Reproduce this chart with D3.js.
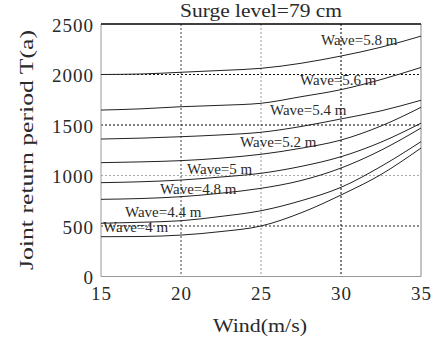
<!DOCTYPE html>
<html>
<head>
<meta charset="utf-8">
<script src="https://cdn.jsdelivr.net/npm/d3@7"></script>
<style>
  html, body { margin: 0; padding: 0; background: #fff; }
  svg { display: block; }
  text { font-family: "Liberation Serif", "Times New Roman", serif; font-weight: 400; fill: #2a2a2a; }
</style>
</head>
<body>
<svg id="chart" width="436" height="337"></svg>
<script>
// ---- data ----
const winds = [15, 17.5, 20, 22.5, 25, 27.5, 30, 32.5, 35];
const wave58 = [2000, 2005, 2022, 2040, 2061, 2111, 2183, 2270, 2380];
const wave56 = [1648, 1660, 1681, 1695, 1715, 1780, 1850, 1950, 2070];
const wave54 = [1361, 1370, 1384, 1402, 1428, 1485, 1560, 1640, 1745];
const wave52 = [1127, 1135, 1147, 1172, 1210, 1270, 1351, 1490, 1675];
const wave50 = [929, 938, 955, 985, 1022, 1090, 1186, 1330, 1518];
const wave48 = [764, 772, 790, 825, 873, 950, 1074, 1250, 1470];
const wave44 = [527, 537, 552, 595, 651, 750, 883, 1090, 1335];
const wave40 = [394, 396, 410, 445, 500, 630, 807, 1010, 1272];
const seriesNames = ["Wave=5.8 m", "Wave=5.6 m", "Wave=5.4 m", "Wave=5.2 m", "Wave=5 m", "Wave=4.8 m", "Wave=4.4 m", "Wave=4 m"];
const seriesValues = [wave58, wave56, wave54, wave52, wave50, wave48, wave44, wave40];
// label anchors in data coordinates (wind, return period)
const labelWind = [28.75, 27.44, 25.56, 23.69, 20.38, 18.69, 16.5, 15.13];
const labelValue = [2292, 1896, 1599, 1282, 1015, 817, 589, 441];
const xTicks = [15, 20, 25, 30, 35];
const yTicks = [0, 500, 1000, 1500, 2000, 2500];
const titleText = "Surge level=79 cm";
const xTitle = "Wind(m/s)";
const yTitle = "Joint return period  T(a)";

// ---- layout ----
const svg = d3.select("#chart");
const L = 101, R = 421, T = 24, B = 276.5;
const x = d3.scaleLinear().domain([15, 35]).range([L, R]);
const y = d3.scaleLinear().domain([0, 2500]).range([B, T]);
const serif = '"Liberation Serif", "Times New Roman", serif';

// grid
const gridX = [{v: 20, c: "#444"}, {v: 25, c: "#999"}, {v: 30, c: "#000"}];
const gridY = [{v: 500, c: "#222"}, {v: 1000, c: "#aaa"}, {v: 1500, c: "#000"}, {v: 2000, c: "#111"}];
svg.append("g").selectAll("line").data(gridX).join("line")
  .attr("x1", d => x(d.v)).attr("x2", d => x(d.v))
  .attr("y1", T).attr("y2", B)
  .attr("stroke", d => d.c).attr("stroke-width", 1).attr("stroke-dasharray", "2,2");
svg.append("g").selectAll("line").data(gridY).join("line")
  .attr("y1", d => y(d.v)).attr("y2", d => y(d.v))
  .attr("x1", L).attr("x2", R)
  .attr("stroke", d => d.c).attr("stroke-width", 1).attr("stroke-dasharray", "2,2");

// frame
svg.append("line").attr("x1", L).attr("x2", L).attr("y1", T).attr("y2", B).attr("stroke", "#999");
svg.append("line").attr("x1", R).attr("x2", R).attr("y1", T).attr("y2", B).attr("stroke", "#888");
svg.append("line").attr("x1", L).attr("x2", R).attr("y1", B).attr("y2", B).attr("stroke", "#999");
svg.append("line").attr("x1", L).attr("x2", R).attr("y1", T).attr("y2", T).attr("stroke", "#000").attr("stroke-width", 1.3);

// curves
const line = d3.line().x((d, i) => x(winds[i])).y(d => y(d)).curve(d3.curveMonotoneX);
svg.append("g").selectAll("path").data(seriesValues).join("path")
  .attr("d", d => line(d)).attr("fill", "none").attr("stroke", "#222").attr("stroke-width", 1);

// curve labels
svg.append("g").selectAll("text").data(seriesNames).join("text")
  .attr("x", (d, i) => x(labelWind[i])).attr("y", (d, i) => y(labelValue[i]))
  .attr("font-size", 15).text(d => d);

// axes tick labels
const xAxis = d3.axisBottom(x).tickValues(xTicks).tickSize(0).tickPadding(10).tickFormat(d3.format("d"));
const gx = svg.append("g").attr("transform", `translate(0,${B})`).call(xAxis);
gx.select(".domain").remove();
gx.selectAll("text").attr("font-size", 19).attr("letter-spacing", 1)
  .style("font-family", serif).style("font-weight", 400).attr("fill", "#2a2a2a");

const yAxis = d3.axisLeft(y).tickValues(yTicks).tickSize(0).tickPadding(7).tickFormat(d3.format("d"));
const gy = svg.append("g").attr("transform", `translate(${L},0)`).call(yAxis);
gy.select(".domain").remove();
gy.selectAll("text").attr("font-size", 19).attr("letter-spacing", 1).attr("dy", "0.38em")
  .style("font-family", serif).style("font-weight", 400).attr("fill", "#2a2a2a");

// titles
svg.append("text").attr("x", 261).attr("y", 17).attr("text-anchor", "middle")
  .attr("font-size", 19).attr("textLength", 162).attr("lengthAdjust", "spacingAndGlyphs").text(titleText);
svg.append("text").attr("x", 260).attr("y", 332).attr("text-anchor", "middle")
  .attr("font-size", 19).attr("textLength", 94).attr("lengthAdjust", "spacingAndGlyphs").text(xTitle);
svg.append("text").attr("transform", "translate(33,150) rotate(-90)").attr("text-anchor", "middle")
  .attr("font-size", 19).attr("textLength", 240).attr("lengthAdjust", "spacingAndGlyphs").text(yTitle);
</script>
</body>
</html>
